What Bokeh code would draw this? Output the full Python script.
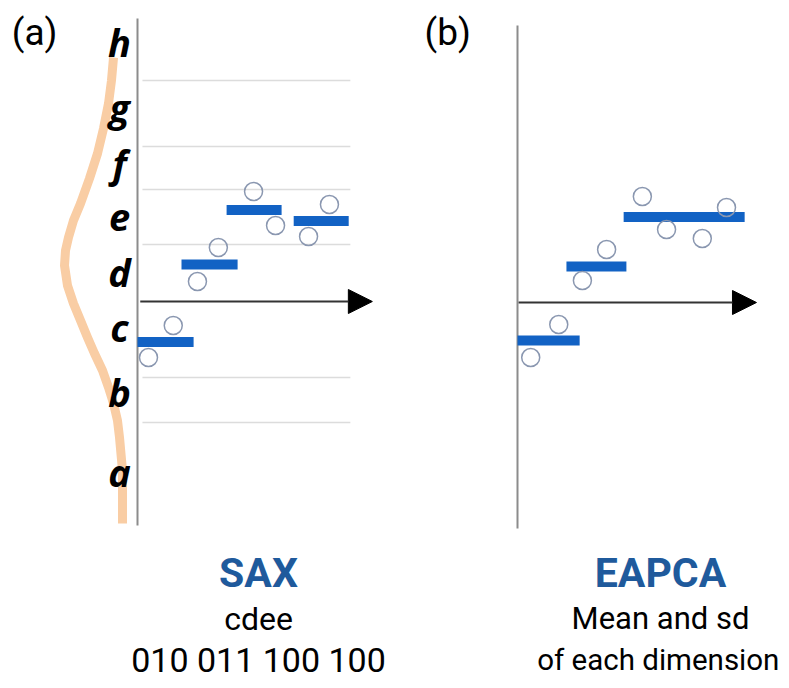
from bokeh.plotting import figure
from bokeh.layouts import row
from bokeh.models import Range1d, Arrow, NormalHead
from bokeh.core.properties import value
from bokeh.embed import file_html
from bokeh.resources import INLINE

# ---------------- panel (a): SAX ----------------
symbols = ["h", "g", "f", "e", "d", "c", "b", "a"]
symbol_level = [2.60, 1.95, 1.39, 0.84, 0.30, -0.25, -0.90, -1.70]
breakpoints = [2.21, 1.55, 1.12, 0.57, -0.76, -1.21]
sax_t = [0.20, 0.65, 1.09, 1.47, 2.11, 2.51, 3.11, 3.49]
sax_v = [-0.56, -0.24, 0.20, 0.54, 1.10, 0.76, 0.65, 0.97]
sax_left = [0.0, 0.80, 1.62, 2.84]
sax_right = [1.02, 1.82, 2.62, 3.84]
sax_level = [-0.405, 0.37, 0.915, 0.805]
density_v = [2.44, 2.21, 1.98, 1.73, 1.48, 1.23, 0.98, 0.81, 0.64, 0.51, 0.36, 0.16,
             -0.02, -0.19, -0.36, -0.52, -0.69, -0.86, -1.02, -1.19, -1.36, -1.69, -1.96, -2.22]
density_t = [-0.436, -0.473, -0.527, -0.618, -0.727, -0.873, -1.036, -1.164, -1.255, -1.309,
             -1.327, -1.273, -1.164, -1.036, -0.909, -0.782, -0.636, -0.527, -0.436, -0.364,
             -0.327, -0.273, -0.273, -0.273]
sax_title = "SAX"
sax_lines = ["cdee", "010 011 100 100"]

# ---------------- panel (b): EAPCA ----------------
eapca_t = [0.24, 0.75, 1.18, 1.62, 2.27, 2.71, 3.36, 3.80]
eapca_v = [-0.56, -0.23, 0.21, 0.52, 1.05, 0.72, 0.63, 0.94]
eapca_left = [0.0, 0.89, 1.93]
eapca_right = [1.13, 1.98, 4.13]
eapca_mean = [-0.39, 0.35, 0.845]
eapca_title = "EAPCA"
eapca_lines = ["Mean and sd", "of each dimension"]

BLUE = "#1262C4"
TITLE_BLUE = "#1F5A9C"
CIRCLE = "#8a97b0"
SANS = "Roboto"
H = 688

# text baselines (value units)
PANEL_Y = 2.69
TITLE_Y = -2.71
LINE1_Y = -3.17
LINE2_Y = -3.58


def base(width, x0, x1):
    p = figure(width=width, height=H, x_range=Range1d(x0, x1), y_range=Range1d(3.01 - H / 100, 3.01),
               output_backend="svg", toolbar_location=None, min_border=0)
    p.axis.visible = False
    p.grid.visible = False
    p.outline_line_color = None
    p.background_fill_color = "white"
    p.border_fill_color = "white"
    return p


# ---- panel a ----
WA = 400
pa = base(WA, -137 / 55, (WA - 137) / 55)
pa.line(density_t, density_v, line_color="#F9CDA4", line_width=9, line_join="round")
pa.segment(x0=[0.09] * len(breakpoints), x1=[3.87] * len(breakpoints), y0=breakpoints, y1=breakpoints,
           line_color="#dcdcdc", line_width=1.5)
pa.segment(x0=[0], x1=[0], y0=[2.83], y1=[-2.24], line_color="#8c8c8c", line_width=2)
pa.add_layout(Arrow(end=NormalHead(size=24, fill_color="black", line_color="black"),
                    x_start=0.05, y_start=0, x_end=4.27, y_end=0, line_color="#333333", line_width=2))
pa.hbar(y=sax_level, left=sax_left, right=sax_right, height=0.10, fill_color=BLUE, line_color=None)
pa.scatter(sax_t, sax_v, marker="circle", size=18, fill_color="white", fill_alpha=0.0,
           line_color=CIRCLE, line_width=1.5)
pa.text(x=[-0.327] * len(symbols), y=symbol_level, text=symbols, text_font=value("Open Sans"),
        text_font_style="bold italic", text_font_size="38px", text_align="center",
        text_baseline="alphabetic", text_color="black")
pa.text(x=[-1.87], y=[PANEL_Y], text=["(a)"], text_font=value(SANS), text_font_size="37px",
        text_align="center", text_baseline="alphabetic", text_color="black")
pa.text(x=[2.2], y=[TITLE_Y], text=[sax_title], text_font=value(SANS), text_font_style="bold",
        text_font_size="41px", text_align="center", text_baseline="alphabetic", text_color=TITLE_BLUE)
pa.text(x=[2.2], y=[LINE1_Y], text=[sax_lines[0]], text_font=value(SANS), text_font_size="32px",
        text_align="center", text_baseline="alphabetic", text_color="black")
pa.text(x=[2.2], y=[LINE2_Y], text=[sax_lines[1]], text_font=value(SANS), text_font_size="34px",
        text_align="center", text_baseline="alphabetic", text_color="black")

# ---- panel b ----
WB = 389
pb = base(WB, -117 / 55, (WB - 117) / 55)
pb.segment(x0=[0], x1=[0], y0=[2.76], y1=[-2.27], line_color="#8c8c8c", line_width=2)
pb.add_layout(Arrow(end=NormalHead(size=24, fill_color="black", line_color="black"),
                    x_start=0.02, y_start=-0.01, x_end=4.345, y_end=-0.01, line_color="#333333", line_width=2))
pb.hbar(y=eapca_mean, left=eapca_left, right=eapca_right, height=0.10, fill_color=BLUE, line_color=None)
pb.scatter(eapca_t, eapca_v, marker="circle", size=18, fill_color="white", fill_alpha=0.0,
           line_color=CIRCLE, line_width=1.5)
pb.text(x=[-1.27], y=[PANEL_Y], text=["(b)"], text_font=value(SANS), text_font_size="37px",
        text_align="center", text_baseline="alphabetic", text_color="black")
pb.text(x=[2.60], y=[TITLE_Y], text=[eapca_title], text_font=value(SANS), text_font_style="bold",
        text_font_size="41px", text_align="center", text_baseline="alphabetic", text_color=TITLE_BLUE)
pb.text(x=[2.60], y=[LINE1_Y], text=[eapca_lines[0]], text_font=value(SANS), text_font_size="31px",
        text_align="center", text_baseline="alphabetic", text_color="black")
pb.text(x=[2.56], y=[LINE2_Y], text=[eapca_lines[1]], text_font=value(SANS), text_font_size="29.5px",
        text_align="center", text_baseline="alphabetic", text_color="black")

layout = row(pa, pb, spacing=0)
open("out.html", "w").write(file_html(layout, INLINE))
